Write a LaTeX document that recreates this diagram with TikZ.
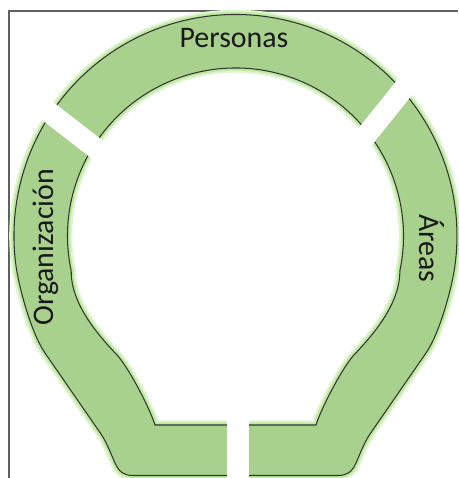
\documentclass[tikz,border=0pt]{standalone}
\usepackage{fontspec}
\setmainfont{Carlito}
\usepackage{tikz}
\usetikzlibrary{positioning}

\definecolor{bandfill}{RGB}{169,209,142}
\definecolor{glowouter}{RGB}{222,245,208}
\definecolor{glowinner}{RGB}{192,234,164}
\definecolor{framegray}{RGB}{96,96,96}

\begin{document}
\begin{tikzpicture}[
            x=0.02cm, y=0.02cm,
            band/.style={fill=bandfill, draw=black!80, line width=0.6pt, even odd rule,
                preaction={draw=glowouter, line width=5.4pt},
                preaction={draw=glowinner, line width=3pt}},
            gap/.style={fill=white, draw=none},
            frame/.style={draw=framegray, line width=0.8pt},
            lbl/.style={font=\fontsize{17}{20}\selectfont, text=black!90}
        ]

        \useasboundingbox (0,0) rectangle (458,478);

        % frame
        \draw[frame] (9,0) -- (9,467) -- (458,467);

        % horseshoe band: outer outline, then inner outline
        \path[band]
            (133,2.5) -- (338,2.5)
            .. controls (347,2.5) and (352,6) .. (356,15)
            .. controls (360,24) and (364,35) .. (370,44)
            -- (426,125)
            .. controls (440.2,145.6) and (452,191.4) .. (454.8,211.2)
            arc[start angle=-8, end angle=188, radius=221.5]
            .. controls (19,191.4) and (30.8,145.6) .. (45,125)
            -- (101,44)
            .. controls (107,35) and (111,24) .. (115,15)
            .. controls (119,6) and (124,2.5) .. (133,2.5) -- cycle
            (155,53)
            .. controls (150,69) and (130.8,106.6) .. (118,122)
            .. controls (96,145) and (71,175) .. (71.2,207.1)
            arc[start angle=192, end angle=-12, radius=168]
            .. controls (400,175) and (375,145) .. (353,122)
            .. controls (340.2,106.6) and (321,69) .. (316,53) -- cycle;

        % gaps
        \fill[gap, rotate around={-37.8:(71.75,348.25)}] (16.75,337.75) rectangle (126.75,358.75);
        \fill[gap, rotate around={51.3:(385.75,367)}] (330.75,356.5) rectangle (440.75,377.5);
        \fill[gap] (227,-2) rectangle (249,62);

        % labels
        \node[lbl, anchor=base] (personas) at (234,430.3) {Personas};
        \node[lbl, anchor=base, rotate=90] (organizacion) at (53,230.6) {Organización};
        \node[lbl, anchor=base, rotate=-90] (areas) at (419.5,229.7) {Áreas};

    \end{tikzpicture}
\end{document}
